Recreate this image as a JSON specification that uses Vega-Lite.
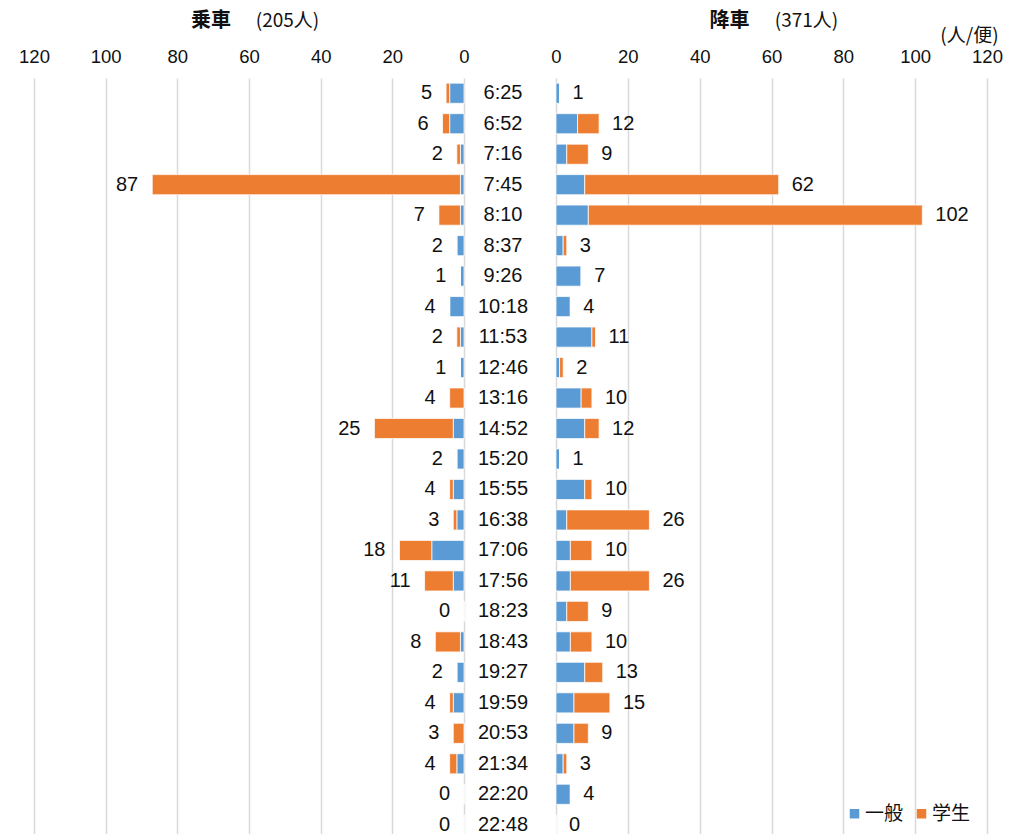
{
  "$schema": "https://vega.github.io/schema/vega-lite/v6.json",
  "background": "white",
  "padding": {"left": 18, "top": 11, "right": 0, "bottom": 0},
  "autosize": {"type": "pad"},
  "bounds": "flush",
  "spacing": 0,
  "config": {
    "view": {"stroke": null},
    "font": "Liberation Sans",
    "text": {"color": "#111111"}
  },
  "datasets": {
    "board": [
      {"t": "6:25", "k": "一般", "n": 4}, {"t": "6:25", "k": "学生", "n": 1},
      {"t": "6:52", "k": "一般", "n": 4}, {"t": "6:52", "k": "学生", "n": 2},
      {"t": "7:16", "k": "一般", "n": 1}, {"t": "7:16", "k": "学生", "n": 1},
      {"t": "7:45", "k": "一般", "n": 1}, {"t": "7:45", "k": "学生", "n": 86},
      {"t": "8:10", "k": "一般", "n": 1}, {"t": "8:10", "k": "学生", "n": 6},
      {"t": "8:37", "k": "一般", "n": 2}, {"t": "8:37", "k": "学生", "n": 0},
      {"t": "9:26", "k": "一般", "n": 1}, {"t": "9:26", "k": "学生", "n": 0},
      {"t": "10:18", "k": "一般", "n": 4}, {"t": "10:18", "k": "学生", "n": 0},
      {"t": "11:53", "k": "一般", "n": 1}, {"t": "11:53", "k": "学生", "n": 1},
      {"t": "12:46", "k": "一般", "n": 1}, {"t": "12:46", "k": "学生", "n": 0},
      {"t": "13:16", "k": "一般", "n": 0}, {"t": "13:16", "k": "学生", "n": 4},
      {"t": "14:52", "k": "一般", "n": 3}, {"t": "14:52", "k": "学生", "n": 22},
      {"t": "15:20", "k": "一般", "n": 2}, {"t": "15:20", "k": "学生", "n": 0},
      {"t": "15:55", "k": "一般", "n": 3}, {"t": "15:55", "k": "学生", "n": 1},
      {"t": "16:38", "k": "一般", "n": 2}, {"t": "16:38", "k": "学生", "n": 1},
      {"t": "17:06", "k": "一般", "n": 9}, {"t": "17:06", "k": "学生", "n": 9},
      {"t": "17:56", "k": "一般", "n": 3}, {"t": "17:56", "k": "学生", "n": 8},
      {"t": "18:23", "k": "一般", "n": 0}, {"t": "18:23", "k": "学生", "n": 0},
      {"t": "18:43", "k": "一般", "n": 1}, {"t": "18:43", "k": "学生", "n": 7},
      {"t": "19:27", "k": "一般", "n": 2}, {"t": "19:27", "k": "学生", "n": 0},
      {"t": "19:59", "k": "一般", "n": 3}, {"t": "19:59", "k": "学生", "n": 1},
      {"t": "20:53", "k": "一般", "n": 0}, {"t": "20:53", "k": "学生", "n": 3},
      {"t": "21:34", "k": "一般", "n": 2}, {"t": "21:34", "k": "学生", "n": 2},
      {"t": "22:20", "k": "一般", "n": 0}, {"t": "22:20", "k": "学生", "n": 0},
      {"t": "22:48", "k": "一般", "n": 0}, {"t": "22:48", "k": "学生", "n": 0}
    ],
    "alight": [
      {"t": "6:25", "k": "一般", "n": 1}, {"t": "6:25", "k": "学生", "n": 0},
      {"t": "6:52", "k": "一般", "n": 6}, {"t": "6:52", "k": "学生", "n": 6},
      {"t": "7:16", "k": "一般", "n": 3}, {"t": "7:16", "k": "学生", "n": 6},
      {"t": "7:45", "k": "一般", "n": 8}, {"t": "7:45", "k": "学生", "n": 54},
      {"t": "8:10", "k": "一般", "n": 9}, {"t": "8:10", "k": "学生", "n": 93},
      {"t": "8:37", "k": "一般", "n": 2}, {"t": "8:37", "k": "学生", "n": 1},
      {"t": "9:26", "k": "一般", "n": 7}, {"t": "9:26", "k": "学生", "n": 0},
      {"t": "10:18", "k": "一般", "n": 4}, {"t": "10:18", "k": "学生", "n": 0},
      {"t": "11:53", "k": "一般", "n": 10}, {"t": "11:53", "k": "学生", "n": 1},
      {"t": "12:46", "k": "一般", "n": 1}, {"t": "12:46", "k": "学生", "n": 1},
      {"t": "13:16", "k": "一般", "n": 7}, {"t": "13:16", "k": "学生", "n": 3},
      {"t": "14:52", "k": "一般", "n": 8}, {"t": "14:52", "k": "学生", "n": 4},
      {"t": "15:20", "k": "一般", "n": 1}, {"t": "15:20", "k": "学生", "n": 0},
      {"t": "15:55", "k": "一般", "n": 8}, {"t": "15:55", "k": "学生", "n": 2},
      {"t": "16:38", "k": "一般", "n": 3}, {"t": "16:38", "k": "学生", "n": 23},
      {"t": "17:06", "k": "一般", "n": 4}, {"t": "17:06", "k": "学生", "n": 6},
      {"t": "17:56", "k": "一般", "n": 4}, {"t": "17:56", "k": "学生", "n": 22},
      {"t": "18:23", "k": "一般", "n": 3}, {"t": "18:23", "k": "学生", "n": 6},
      {"t": "18:43", "k": "一般", "n": 4}, {"t": "18:43", "k": "学生", "n": 6},
      {"t": "19:27", "k": "一般", "n": 8}, {"t": "19:27", "k": "学生", "n": 5},
      {"t": "19:59", "k": "一般", "n": 5}, {"t": "19:59", "k": "学生", "n": 10},
      {"t": "20:53", "k": "一般", "n": 5}, {"t": "20:53", "k": "学生", "n": 4},
      {"t": "21:34", "k": "一般", "n": 2}, {"t": "21:34", "k": "学生", "n": 1},
      {"t": "22:20", "k": "一般", "n": 4}, {"t": "22:20", "k": "学生", "n": 0},
      {"t": "22:48", "k": "一般", "n": 0}, {"t": "22:48", "k": "学生", "n": 0}
    ]
  },
  "resolve": {"scale": {"color": "independent", "x": "independent", "y": "independent"}, "legend": {"color": "independent"}},
  "hconcat": [
    {
      "width": 430,
      "height": 762,
      "data": {"name": "board"},
      "title": {"text": "乗車", "font": "Noto Sans CJK JP", "fontSize": 20, "fontWeight": "bold", "anchor": "middle", "dx": -38, "dy": 20, "offset": 0, "color": "#111111"},
      "layer": [
        {
          "mark": {"type": "bar", "stroke": "white", "strokeWidth": 0.75},
          "encoding": {
            "y": {"field": "t", "type": "nominal", "scale": {"domain": ["6:25","6:52","7:16","7:45","8:10","8:37","9:26","10:18","11:53","12:46","13:16","14:52","15:20","15:55","16:38","17:06","17:56","18:23","18:43","19:27","19:59","20:53","21:34","22:20","22:48"], "paddingInner": 0.34, "paddingOuter": 0.17}, "axis": null},
            "x": {"field": "n", "type": "quantitative", "stack": "zero", "title": "(205人)",
              "scale": {"domain": [0, 120], "reverse": true, "nice": false},
              "axis": {"orient": "top", "values": [0, 20, 40, 60, 80, 100, 120], "labelFlush": false, "grid": true, "gridColor": "#d9d9d9", "gridWidth": 1.5, "domain": false, "ticks": false, "labelFontSize": 18.5, "labelColor": "#111111", "labelPadding": 12, "titleX": 253, "titleY": -58, "titleFont": "Noto Sans CJK JP", "titleFontSize": 19, "titleFontWeight": "normal", "titleAlign": "center", "titleBaseline": "middle", "titleColor": "#111111"}},
            "color": {"field": "k", "type": "nominal", "scale": {"domain": ["一般", "学生"], "range": ["#5B9BD5", "#ED7D31"]}, "legend": null}
          }
        },
        {
          "transform": [{"aggregate": [{"op": "sum", "field": "n", "as": "total"}], "groupby": ["t"]}],
          "mark": {"type": "text", "align": "right", "baseline": "middle", "dx": -14, "fontSize": 20},
          "encoding": {
            "y": {"field": "t", "type": "nominal"},
            "x": {"field": "total", "type": "quantitative", "title": "(205人)"},
            "text": {"field": "total", "type": "quantitative"}
          }
        }
      ]
    },
    {
      "width": 92,
      "height": 762,
      "data": {"name": "board"},
      "transform": [{"aggregate": [{"op": "count", "as": "c"}], "groupby": ["t"]}],
      "mark": {"type": "text", "fontSize": 20, "dx": -7, "baseline": "middle", "align": "center"},
      "encoding": {
        "y": {"field": "t", "type": "nominal", "scale": {"domain": ["6:25","6:52","7:16","7:45","8:10","8:37","9:26","10:18","11:53","12:46","13:16","14:52","15:20","15:55","16:38","17:06","17:56","18:23","18:43","19:27","19:59","20:53","21:34","22:20","22:48"], "paddingInner": 0.34, "paddingOuter": 0.17}, "axis": null},
        "text": {"field": "t", "type": "nominal"}
      }
    },
    {
      "width": 431,
      "height": 762,
      "data": {"name": "alight"},
      "title": {"text": "降車", "font": "Noto Sans CJK JP", "fontSize": 20, "fontWeight": "bold", "anchor": "middle", "dx": -42, "dy": 20, "offset": 0, "color": "#111111"},
      "layer": [
        {
          "mark": {"type": "bar", "stroke": "white", "strokeWidth": 0.75},
          "encoding": {
            "y": {"field": "t", "type": "nominal", "title": "(人/便)", "scale": {"domain": ["6:25","6:52","7:16","7:45","8:10","8:37","9:26","10:18","11:53","12:46","13:16","14:52","15:20","15:55","16:38","17:06","17:56","18:23","18:43","19:27","19:59","20:53","21:34","22:20","22:48"], "paddingInner": 0.34, "paddingOuter": 0.17},
              "axis": {"orient": "right", "labels": false, "ticks": false, "domain": false, "grid": false, "titleAngle": 0, "titleX": -18, "titleY": -43, "titleAlign": "center", "titleBaseline": "middle", "titleFont": "Noto Sans CJK JP", "titleFontSize": 19, "titleFontWeight": "normal", "titleColor": "#111111"}},
            "x": {"field": "n", "type": "quantitative", "stack": "zero", "title": "(371人)",
              "scale": {"domain": [0, 120], "nice": false},
              "axis": {"orient": "top", "values": [0, 20, 40, 60, 80, 100, 120], "labelFlush": false, "grid": true, "gridColor": "#d9d9d9", "gridWidth": 1.5, "domain": false, "ticks": false, "labelFontSize": 18.5, "labelColor": "#111111", "labelPadding": 12, "titleX": 250, "titleY": -58, "titleFont": "Noto Sans CJK JP", "titleFontSize": 19, "titleFontWeight": "normal", "titleAlign": "center", "titleBaseline": "middle", "titleColor": "#111111"}},
            "color": {"field": "k", "type": "nominal", "scale": {"domain": ["一般", "学生"], "range": ["#5B9BD5", "#ED7D31"]},
              "legend": {"orient": "bottom-right", "direction": "horizontal", "title": null, "symbolType": "square", "symbolSize": 90, "symbolStrokeWidth": 0, "labelFont": "Noto Sans CJK JP", "labelFontSize": 19, "labelColor": "#111111", "offset": 16, "columnPadding": 8, "labelOffset": 1}}
          }
        },
        {
          "transform": [{"aggregate": [{"op": "sum", "field": "n", "as": "total"}], "groupby": ["t"]}],
          "mark": {"type": "text", "align": "left", "baseline": "middle", "dx": 13, "fontSize": 20},
          "encoding": {
            "y": {"field": "t", "type": "nominal", "title": "(人/便)"},
            "x": {"field": "total", "type": "quantitative", "title": "(371人)"},
            "text": {"field": "total", "type": "quantitative"}
          }
        }
      ]
    }
  ]
}
